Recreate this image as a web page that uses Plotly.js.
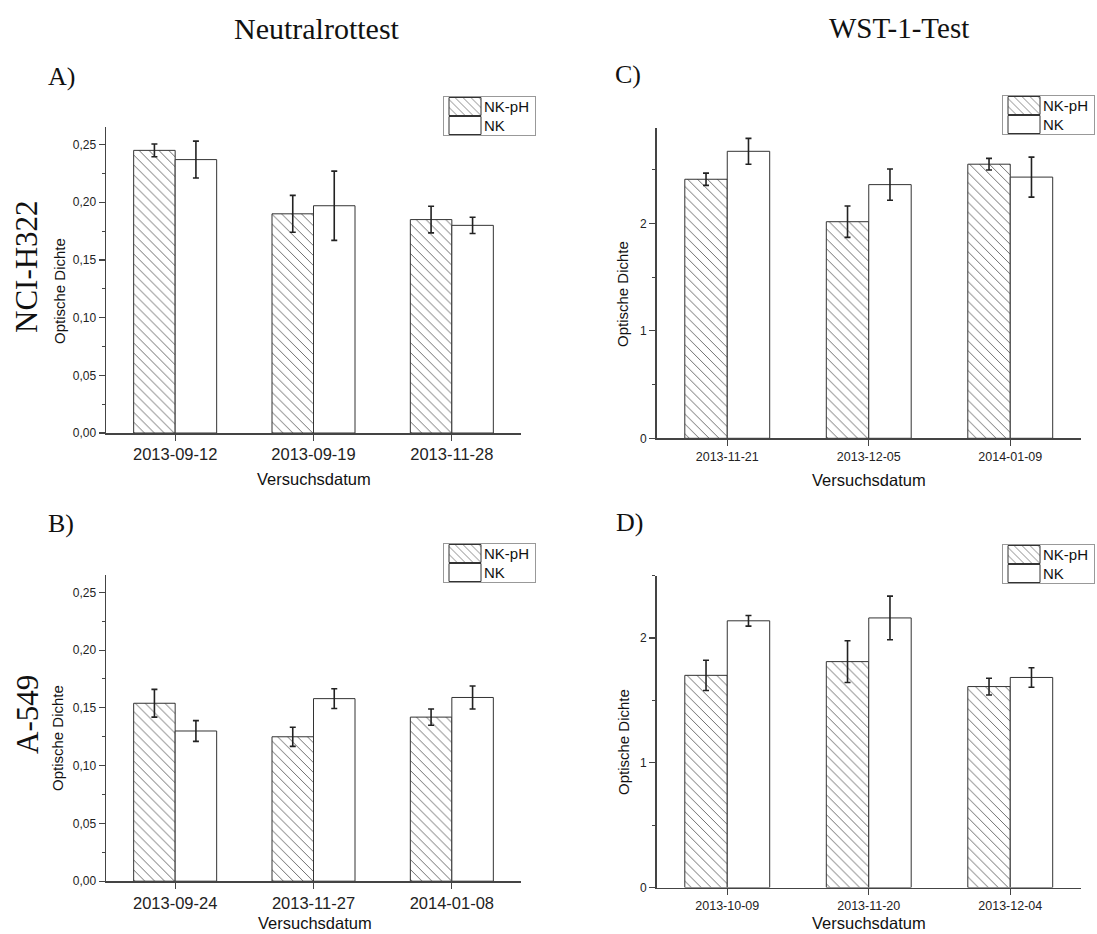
<!DOCTYPE html>
<html>
<head>
<meta charset="utf-8">
<script src="https://cdn.plot.ly/plotly-3.0.1.min.js"></script>
<style>html,body{margin:0;padding:0;background:#fff;}#chart{width:1097px;height:934px;}</style>
</head>
<body>
<div id="chart"></div>
<script>
// ---------- data ----------
const seriesNames = ['NK-pH', 'NK'];

const catsA = ['2013-09-12', '2013-09-19', '2013-11-28'];
const nkphA = [0.245, 0.190, 0.185];
const nkphA_err = [0.0055, 0.016, 0.0115];
const nkA = [0.237, 0.197, 0.180];
const nkA_err = [0.016, 0.030, 0.007];

const catsB = ['2013-09-24', '2013-11-27', '2014-01-08'];
const nkphB = [0.154, 0.125, 0.142];
const nkphB_err = [0.012, 0.0083, 0.007];
const nkB = [0.130, 0.158, 0.159];
const nkB_err = [0.009, 0.0086, 0.010];

const catsC = ['2013-11-21', '2013-12-05', '2014-01-09'];
const nkphC = [2.41, 2.015, 2.55];
const nkphC_err = [0.057, 0.146, 0.054];
const nkC = [2.67, 2.36, 2.43];
const nkC_err = [0.12, 0.145, 0.186];

const catsD = ['2013-10-09', '2013-11-20', '2013-12-04'];
const nkphD = [1.70, 1.81, 1.61];
const nkphD_err = [0.121, 0.167, 0.067];
const nkD = [2.137, 2.16, 1.683];
const nkD_err = [0.043, 0.175, 0.078];

const columnTitles = ['Neutralrottest', 'WST-1-Test'];
const rowTitles = ['NCI-H322', 'A-549'];
const panelLetters = ['A)', 'B)', 'C)', 'D)'];
const yTitle = 'Optische Dichte';
const xTitle = 'Versuchsdatum';

// ---------- helpers ----------
const W = 1097, H = 934;
const fx = p => p / W;
const fy = p => 1 - p / H;
const SANS = 'Liberation Sans, Arial, sans-serif';
const SERIF = 'Liberation Serif, Times New Roman, serif';
const INK = '#333';

function barTrace(name, cats, vals, errs, xa, ya, legend, hatched) {
  const marker = { color: 'white', line: { color: INK, width: 1 } };
  if (hatched) {
    marker.pattern = { shape: '\\', fgcolor: '#555', bgcolor: 'white', size: 7, solidity: 0.12 };
  }
  return {
    type: 'bar', name: name, x: cats, y: vals,
    xaxis: xa, yaxis: ya, legend: legend, showlegend: true,
    marker: marker,
    error_y: { type: 'data', array: errs, visible: true, color: '#222', thickness: 1.6, width: 3 },
    hoverinfo: 'skip'
  };
}

const traces = [
  barTrace(seriesNames[0], catsA, nkphA, nkphA_err, 'x', 'y', 'legend', true),
  barTrace(seriesNames[1], catsA, nkA, nkA_err, 'x', 'y', 'legend', false),
  barTrace(seriesNames[0], catsC, nkphC, nkphC_err, 'x2', 'y2', 'legend2', true),
  barTrace(seriesNames[1], catsC, nkC, nkC_err, 'x2', 'y2', 'legend2', false),
  barTrace(seriesNames[0], catsB, nkphB, nkphB_err, 'x3', 'y3', 'legend3', true),
  barTrace(seriesNames[1], catsB, nkB, nkB_err, 'x3', 'y3', 'legend3', false),
  barTrace(seriesNames[0], catsD, nkphD, nkphD_err, 'x4', 'y4', 'legend4', true),
  barTrace(seriesNames[1], catsD, nkD, nkD_err, 'x4', 'y4', 'legend4', false)
];

function xAxis(l, r, anchor, fontSize) {
  return {
    domain: [fx(l), fx(r)], anchor: anchor, type: 'category', range: [-0.5, 2.5],
    showline: true, linecolor: '#444', linewidth: 1.5,
    ticks: 'outside', ticklen: 6, tickwidth: 1.2, tickcolor: '#444',
    showgrid: false, zeroline: false, fixedrange: true,
    tickfont: { family: SANS, size: fontSize, color: '#222' }
  };
}
// unlabelled overlay axis carrying the small ticks between the date groups
function boundaryAxis(l, r, anchor, overlay, cats) {
  return {
    domain: [fx(l), fx(r)], anchor: anchor, overlaying: overlay, type: 'linear',
    range: [-0.5, cats.length - 0.5],
    tickmode: 'array', tickvals: cats.slice(1).map((c, i) => i + 0.5),
    ticks: 'outside', ticklen: 4, tickwidth: 1, tickcolor: '#444',
    showticklabels: false, showline: false, showgrid: false, zeroline: false, fixedrange: true
  };
}
function yAxis(top, bottom, anchor, range, dtick, minorDtick, fmt) {
  return {
    domain: [fy(bottom), fy(top)], anchor: anchor, range: range,
    showline: true, linecolor: '#444', linewidth: 1.5,
    ticks: 'outside', ticklen: 6, tickwidth: 1.2, tickcolor: '#444',
    dtick: dtick, tick0: 0, tickformat: fmt,
    minor: { dtick: minorDtick, tick0: 0, ticks: 'outside', ticklen: 3, tickwidth: 1, tickcolor: '#444' },
    showgrid: false, zeroline: false, fixedrange: true,
    tickfont: { family: SANS, size: 12, color: '#222' }
  };
}

function legendBox(left, top) {
  return {
    x: fx(left), y: fy(top), xanchor: 'left', yanchor: 'top',
    bgcolor: 'white', bordercolor: '#999', borderwidth: 1,
    font: { family: SANS, size: 15, color: '#111' },
    tracegroupgap: 0, itemwidth: 30, traceorder: 'normal'
  };
}

function ann(text, x, y, size, family, angle) {
  return {
    text: text, x: fx(x), y: fy(y), xref: 'paper', yref: 'paper',
    xanchor: 'center', yanchor: 'middle', showarrow: false,
    textangle: angle || 0, font: { family: family, size: size, color: '#111' }
  };
}

const annotations = [
  ann(columnTitles[0], 317, 28, 30, SERIF),
  ann(columnTitles[1], 899, 28, 29, SERIF),
  ann(panelLetters[0], 61, 77, 26, SERIF),
  ann(panelLetters[1], 61, 523, 26, SERIF),
  ann(panelLetters[2], 628, 75, 26, SERIF),
  ann(panelLetters[3], 629, 522, 26, SERIF),
  ann(rowTitles[0], 27, 267, 31, SERIF, -90),
  ann(rowTitles[1], 27, 715, 31, SERIF, -90),
  ann(yTitle, 59, 291, 15, SANS, -90),
  ann(yTitle, 57, 738, 15, SANS, -90),
  ann(yTitle, 623, 294, 15, SANS, -90),
  ann(yTitle, 623, 742, 15, SANS, -90),
  ann(xTitle, 314, 479, 16.5, SANS),
  ann(xTitle, 315, 923, 16.5, SANS),
  ann(xTitle, 869, 480, 16.5, SANS),
  ann(xTitle, 869, 923, 16.5, SANS)
];

const layout = {
  width: W, height: H,
  margin: { l: 0, r: 0, t: 0, b: 0, pad: 0 },
  paper_bgcolor: 'white', plot_bgcolor: 'rgba(0,0,0,0)',
  barmode: 'group', bargap: 0.4, bargroupgap: 0,
  separators: ', ',
  xaxis: xAxis(106, 521, 'y', 16.5),
  yaxis: yAxis(127.3, 433, 'x', [0, 0.265], 0.05, 0.025, '.2f'),
  xaxis2: xAxis(656.5, 1081, 'y2', 12.5),
  yaxis2: yAxis(128.3, 438.3, 'x2', [0, 2.884], 1, 0.5, 'd'),
  xaxis3: xAxis(106, 521, 'y3', 16.5),
  yaxis3: yAxis(575, 881.2, 'x3', [0, 0.265], 0.05, 0.025, '.2f'),
  xaxis4: xAxis(656.5, 1081, 'y4', 12.5),
  yaxis4: yAxis(575.5, 887.5, 'x4', [0, 2.5], 1, 0.5, 'd'),
  xaxis5: boundaryAxis(106, 521, 'y', 'x', catsA),
  xaxis6: boundaryAxis(106, 521, 'y3', 'x3', catsB),
  legend: legendBox(443, 96),
  legend2: legendBox(1002, 95),
  legend3: legendBox(443, 543),
  legend4: legendBox(1002, 544),
  annotations: annotations,
  showlegend: true
};

Plotly.newPlot('chart', traces, layout, { displayModeBar: false, staticPlot: true }).then(gd => {
  // Origin-style legend: wide swatches, compact rows
  ['legend', 'legend2', 'legend3', 'legend4'].forEach(id => {
    const lg = gd.querySelector('g.' + id);
    if (!lg) return;
    lg.querySelectorAll('g.legendpoints path').forEach(p => {
      p.setAttribute('d', 'M17,9H-15V-9H17Z');
    });
    const rowH = 19;
    const items = lg.querySelectorAll('g.traces');
    items.forEach((it, i) => {
      const m = /translate\(\s*([-\d.]+)[ ,]+([-\d.]+)\s*\)/.exec(it.getAttribute('transform') || '');
      if (m) it.setAttribute('transform', 'translate(' + m[1] + ',' + (1 + rowH / 2 + rowH * i) + ')');
    });
    const bg = lg.querySelector('rect.bg');
    if (bg) bg.setAttribute('height', String(rowH * items.length + 1));
  });
});
</script>
</body>
</html>
